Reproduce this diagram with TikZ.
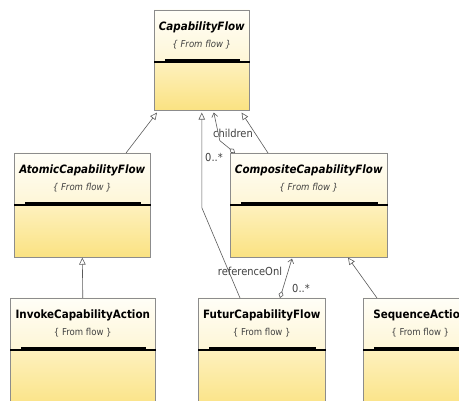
\documentclass[tikz,border=0pt]{standalone}
\usepackage{fontspec}
\setmainfont{DejaVu Sans Condensed}
\usetikzlibrary{positioning,calc,arrows.meta}
\definecolor{classtop}{HTML}{FFFEF7}
\definecolor{classmid}{HTML}{FEF6D6}
\definecolor{classlow}{HTML}{FEF1BE}
\definecolor{classbot}{HTML}{FAE282}
\definecolor{classborder}{HTML}{8C8C8C}
\definecolor{linkgray}{HTML}{5A5A5A}

\begin{document}
\begin{tikzpicture}[x=1pt,y=-1pt]
  \tikzset{
    classbox/.style={draw=classborder, line width=0.6pt, inner sep=0pt},
    classname/.style={font=\bfseries\fontsize{11.5}{13}\selectfont},
    origin/.style={font=\fontsize{9.5}{11}\selectfont, text=black!75},
    link/.style={draw=linkgray, line width=0.6pt},
    generalize/.style={link, -{Triangle[open, length=7pt, width=6.5pt]}},
    assoc/.style={link, {Diamond[open, length=7pt, width=5pt]}-{Straight Barb[length=4pt, width=6pt]}},
    role/.style={font=\fontsize{11}{13}\selectfont, text=black!75}}
  \useasboundingbox (0,0) rectangle (459,401);
  \clip (0,0) rectangle (459,401);
  % #1 name, #2 left, #3 top, #4 width, #5 height, #6 shape, #7 class name
  \def\umlclass#1#2#3#4#5#6#7{
    \shade[top color=classtop, bottom color=classmid] (#2,#3) rectangle ++(#4,52);
    \shade[top color=classlow, bottom color=classbot] (#2,#3+52) rectangle ++(#4,#5-52);
    \node[classbox, minimum width=#4pt, minimum height=#5pt, anchor=north west] (#1) at (#2,#3) {};
    \node[classname] (#1-title) at ($(#1.north)+(0,17)$) {#6#7};
    \node[origin] (#1-origin) at ($(#1.north)+(0,35)$) {#6\{ From flow \}};
    \fill ($(#1.north west)+(11,49.5)$) rectangle ($(#1.north east)+(-10,52)$);
    \draw[line width=1.4pt] ($(#1.north west)+(0,52)$) -- ($(#1.north east)+(0,52)$);
  }

  \umlclass{capflow}{154}{10}{95}{100}{\itshape}{CapabilityFlow}
  \umlclass{atomic}{14}{153}{136}{104}{\itshape}{AtomicCapabilityFlow}
  \umlclass{composite}{230}{153}{157}{104}{\itshape}{CompositeCapabilityFlow}
  \umlclass{invoke}{10}{298}{145}{112}{}{InvokeCapabilityAction}
  \umlclass{futur}{198}{298}{127}{112}{}{FuturCapabilityFlow}
  \umlclass{sequence}{363}{298}{114}{112}{}{SequenceAction}

  % inheritance
  \draw[generalize] ($(atomic.north west)+(112,0)$) -- ($(capflow.south west)+(3,2)$);
  \draw[generalize] (invoke.north) -- (atomic.south);
  \draw[generalize] ($(composite.north west)+(38,0)$) -- ($(capflow.south east)+(-8,2)$);
  \draw[generalize] ($(sequence.north west)+(14,0)$) -- ($(composite.south west)+(118,0)$);
  \coordinate (bend) at ($(capflow.south)+(0,97)$);
  \draw[generalize] ($(futur.north west)+(42,0)$) -- (bend) -- ($(capflow.south)+(0,2)$);

  % associations
  \coordinate (kink) at ($(capflow.south)+(18,30)$);
  \draw[assoc] ($(composite.north west)+(5,0)$) -- (kink) -- ($(capflow.south)+(12,2)$);
  \draw[assoc] ($(futur.north west)+(82,0)$) -- ($(composite.south west)+(62,1)$);

  \node[role] (children) at (233,133) {children};
  \node[role] (childmult) at (214,157) {0..*};
  \node[role] (refonly) at (250,271) {referenceOnl};
  \node[role] (refmult) at (301,288) {0..*};
\end{tikzpicture}
\end{document}
